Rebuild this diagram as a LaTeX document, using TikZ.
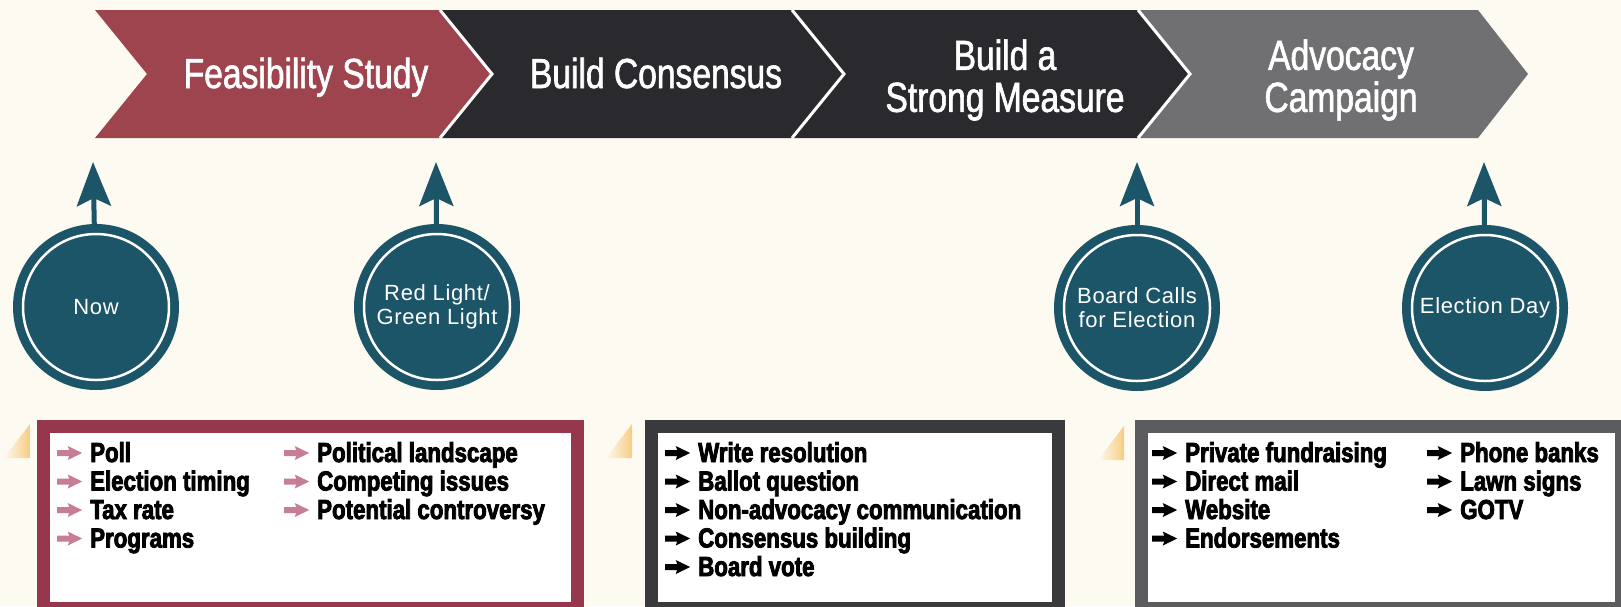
\documentclass[tikz,border=0pt]{standalone}
\usepackage{fontspec}
\setmainfont{Liberation Sans}
\newfontfamily\titlefont[FakeStretch=0.8,FakeBold=1.5]{Liberation Sans}
\newfontfamily\itemfont[FakeStretch=0.81,FakeBold=3]{Liberation Sans Bold}
\newfontfamily\circfont[LetterSpace=3]{Liberation Sans}
\usetikzlibrary{arrows.meta}
\definecolor{bgc}{RGB}{252,250,241}
\definecolor{chevred}{RGB}{158,68,78}
\definecolor{chevdark}{RGB}{42,41,45}
\definecolor{chevgray}{RGB}{112,112,114}
\definecolor{circteal}{RGB}{28,84,104}
\definecolor{boxred}{RGB}{150,55,78}
\definecolor{pinkarr}{RGB}{200,125,150}
\definecolor{boxdark}{RGB}{58,58,60}
\definecolor{boxgray}{RGB}{92,92,95}
\definecolor{wedgec}{RGB}{246,205,130}
\newcommand{\itm}[2]{\makebox[33pt][l]{\tikz[baseline=0pt,x=1pt,y=1pt]\fill[#1] (0,6) -- (12,6) -- (10.5,2) -- (25,9) -- (10.5,16) -- (12,12) -- (0,12) -- cycle;}#2}
\tikzset{
  sepline/.style={draw=white, line width=3pt, line join=miter},
  title/.style={text=white, font=\fontsize{42}{42}\titlefont, inner sep=0pt, align=center},
  stopc/.style={circle, fill=circteal, minimum size=166pt, inner sep=0pt, text=white,
    font=\fontsize{22}{24}\circfont, align=center},
  ring/.style={draw=white, line width=2.5pt},
  uparr/.style={draw=circteal, line width=5pt, -{Stealth[length=44pt, width=34pt, inset=8pt]}},
  panel/.style={draw=#1, line width=13pt, fill=white, inner sep=0pt, anchor=north west},
  item/.style={anchor=base west, inner sep=0pt, font=\fontsize{27.5}{28}\itemfont},
  wedge/.style={left color=bgc, right color=wedgec}
}
\begin{document}
\begin{tikzpicture}[x=1pt,y=-1pt]
\useasboundingbox (0,0) rectangle (1621,606);
\fill[bgc] (0,0) rectangle (1621,606);
\clip (0,0) rectangle (1621,606);

% chevrons
\fill[chevred] (95,10) -- (440,10) -- (492,74) -- (440,138) -- (95,138) -- (147,74) -- cycle;
\fill[chevdark] (440,10) -- (792,10) -- (844,74) -- (792,138) -- (440,138) -- (492,74) -- cycle;
\fill[chevdark] (792,10) -- (1138,10) -- (1190,74) -- (1138,138) -- (792,138) -- (844,74) -- cycle;
\fill[chevgray] (1138,10) -- (1478,10) -- (1528,74) -- (1478,138) -- (1138,138) -- (1190,74) -- cycle;
\draw[sepline] (440,10) -- (492,74) -- (440,138);
\draw[sepline] (792,10) -- (844,74) -- (792,138);
\draw[sepline] (1138,10) -- (1190,74) -- (1138,138);

\node[title, anchor=base] (t1) at (306,88) {Feasibility Study};
\node[title, anchor=base] (t2) at (656,88) {Build Consensus};
\node[title] (t3) at (1005,80) {Build a\\Strong Measure};
\node[title] (t4) at (1341,80) {Advocacy\\Campaign};

% milestones
\node[stopc] (c1) at (96,307) {Now};
\node[stopc] (c2) at (437,307) {Red Light/\\Green Light};
\node[stopc] (c3) at (1137,308) {Board Calls\\for Election};
\node[stopc] (c4) at (1485,308) {Election Day};
\foreach \c in {c1,c2,c3,c4} \draw[ring] (\c.center) circle[radius=73];
\coordinate (a1) at (93,162);
\coordinate (a2) at (436,162);
\coordinate (a3) at (1137,162);
\coordinate (a4) at (1484,162);
\draw[uparr] (c1) -- (a1);
\draw[uparr] (c2) -- (a2);
\draw[uparr] (c3) -- (a3);
\draw[uparr] (c4) -- (a4);

% wedges
\shade[wedge] (30,424) -- (30,458) -- (4,458) -- cycle;
\shade[wedge] (632,424) -- (632,458) -- (606,458) -- cycle;
\shade[wedge] (1124,426) -- (1124,460) -- (1098,460) -- cycle;

% panels
\node[panel=boxred, minimum width=534pt, minimum height=181.5pt] (p1) at (36.5,420) {};
\node[panel=boxdark, minimum width=407pt, minimum height=181.5pt] (p2) at (644.5,420) {};
\node[panel=boxgray, minimum width=480pt, minimum height=181.5pt] (p3) at (1134.5,420) {};

\foreach \txt [count=\i from 0] in {Poll, Election timing, Tax rate, Programs}
  \node[item] (fa\i) at (57,462+28.5*\i) {\itm{pinkarr}{\txt}};
\foreach \txt [count=\i from 0] in {Political landscape, Competing issues, Potential controversy}
  \node[item] (fb\i) at (284,462+28.5*\i) {\itm{pinkarr}{\txt}};
\foreach \txt [count=\i from 0] in {Write resolution, Ballot question, Non-advocacy communication, Consensus building, Board vote}
  \node[item] (ba\i) at (665,462+28.5*\i) {\itm{black}{\txt}};
\foreach \txt [count=\i from 0] in {Private fundraising, Direct mail, Website, Endorsements}
  \node[item] (aa\i) at (1152,462+28.5*\i) {\itm{black}{\txt}};
\foreach \txt [count=\i from 0] in {Phone banks, Lawn signs, GOTV}
  \node[item] (ab\i) at (1427,462+28.5*\i) {\itm{black}{\txt}};
\end{tikzpicture}
\end{document}
